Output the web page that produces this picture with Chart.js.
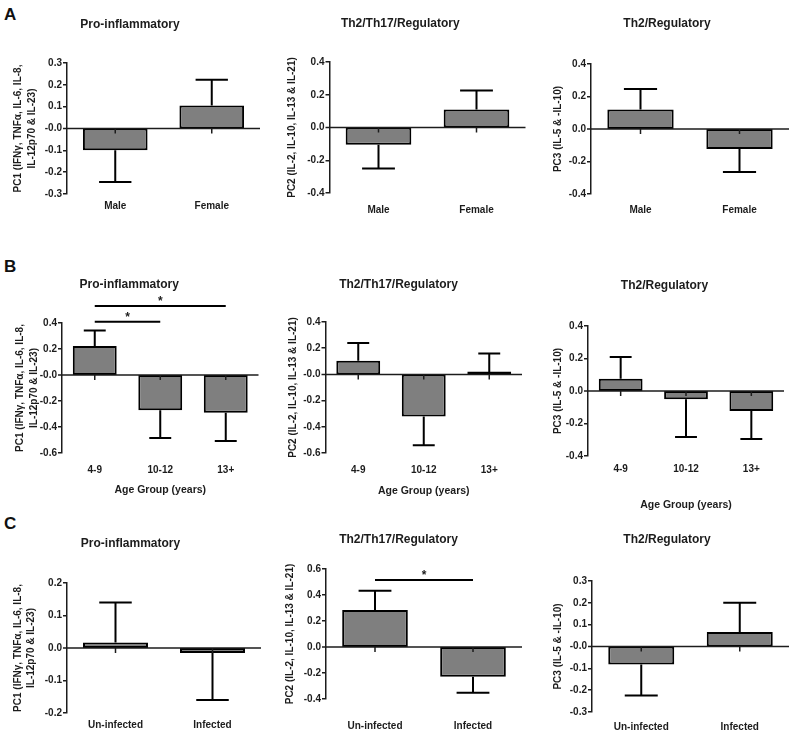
<!DOCTYPE html>
<html><head><meta charset="utf-8">
<script src="https://cdn.jsdelivr.net/npm/chart.js@4.4.0/dist/chart.umd.min.js"></script>
<style>
html,body{margin:0;padding:0;background:#fff;overflow:hidden;width:793px;height:735px;position:relative;}
canvas{position:absolute;}
.lbl{position:absolute;font:bold 17px "Liberation Sans",Arial,sans-serif;line-height:17px;color:#111;}
</style></head><body>
<div class="lbl" style="left:4px;top:6px">A</div>
<div class="lbl" style="left:4px;top:258px">B</div>
<div class="lbl" style="left:4px;top:515px">C</div>
<script>
// ---------- categories ----------
const sexGroups = ['Male', 'Female'];
const ageGroups = ['4-9', '10-12', '13+'];
const infectionGroups = ['Un-infected', 'Infected'];

// ---------- titles ----------
const panelTitles = ['Pro-inflammatory', 'Th2/Th17/Regulatory', 'Th2/Regulatory'];
const pc1AxisTitle = ['PC1 (IFNγ, TNFα, IL-6, IL-8,', 'IL-12p70 & IL-23)'];
const pc2AxisTitle = 'PC2 (IL-2, IL-10, IL-13 & IL-21)';
const pc3AxisTitle = 'PC3 (IL-5 & -IL-10)';
const ageAxisTitle = 'Age Group (years)';

// ---------- means and error (SEM) ----------
const sexPC1 = [-0.100, 0.105];
const sexPC1Err = [0.145, 0.118];
const sexPC2 = [-0.105, 0.110];
const sexPC2Err = [0.145, 0.116];
const sexPC3 = [0.120, -0.123];
const sexPC3Err = [0.126, 0.142];

const agePC1 = [0.223, -0.272, -0.290];
const agePC1Err = [0.120, 0.213, 0.218];
const agePC2 = [0.104, -0.322, 0.005];
const agePC2Err = [0.136, 0.218, 0.155];
const agePC3 = [0.075, -0.050, -0.123];
const agePC3Err = [0.135, 0.233, 0.173];

const infPC1 = [0.017, -0.015];
const infPC1Err = [0.123, 0.145];
const infPC2 = [0.285, -0.228];
const infPC2Err = [0.147, 0.124];
const infPC3 = [-0.083, 0.066];
const infPC3Err = [0.141, 0.134];

// ---------- y tick labels (top to bottom) ----------
const ticksA1 = ['0.3', '0.2', '0.1', '-0.0', '-0.1', '-0.2', '-0.3'];
const ticksA2 = ['0.4', '0.2', '0.0', '-0.2', '-0.4'];
const ticksA3 = ['0.4', '0.2', '0.0', '-0.2', '-0.4'];
const ticksB1 = ['0.4', '0.2', '-0.0', '-0.2', '-0.4', '-0.6'];
const ticksB2 = ['0.4', '0.2', '-0.0', '-0.2', '-0.4', '-0.6'];
const ticksB3 = ['0.4', '0.2', '0.0', '-0.2', '-0.4'];
const ticksC1 = ['0.2', '0.1', '0.0', '-0.1', '-0.2'];
const ticksC2 = ['0.6', '0.4', '0.2', '0.0', '-0.2', '-0.4'];
const ticksC3 = ['0.3', '0.2', '0.1', '-0.0', '-0.1', '-0.2', '-0.3'];

// ---------- significance brackets ----------
const ageSigPC1 = [{from: 0, to: 2, level: 0.53, mark: '*'}, {from: 0, to: 1, level: 0.41, mark: '*'}];
const infSigPC2 = [{from: 0, to: 1, level: 0.515, mark: '*'}];

// ---------- panel geometry (page pixels) ----------
const geometry = {
  a1: {cl: 0,   ct: 0,   H: 235, l: 67,    r: 260,   t: 63,  b: 194, tcx: 151,   ty: 25,    yFirst: 18.3,  xLab: 206.7},
  a2: {cl: 275, ct: 0,   H: 235, l: 329.5, r: 525.5, t: 62,  b: 193, tcx: 413,   ty: 24,    yFirst: 292,   xLab: 210},
  a3: {cl: 545, ct: 0,   H: 235, l: 591,   r: 789,   t: 64,  b: 194, tcx: 676,   ty: 24,    yFirst: 558,   xLab: 210},
  b1: {cl: 0,   ct: 238, H: 262, l: 62,    r: 258.5, t: 323, b: 453, tcx: 148,   ty: 285,   yFirst: 20.5,  xLab: 470,   xTitleY: 490},
  b2: {cl: 275, ct: 238, H: 262, l: 325.5, r: 522,   t: 322, b: 453, tcx: 408.3, ty: 285,   yFirst: 293,   xLab: 470,   xTitleY: 490.7},
  b3: {cl: 545, ct: 238, H: 277, l: 588,   r: 784,   t: 326, b: 456, tcx: 669.7, ty: 286,   yFirst: 558.3, xLab: 469.3, xTitleY: 505},
  c1: {cl: 0,   ct: 505, H: 230, l: 67,    r: 261,   t: 583, b: 713, tcx: 149.5, ty: 543.3, yFirst: 18,    xLab: 725},
  c2: {cl: 275, ct: 505, H: 230, l: 326,   r: 522,   t: 569, b: 699, tcx: 408.3, ty: 540,   yFirst: 290,   xLab: 726.7},
  c3: {cl: 545, ct: 505, H: 230, l: 592,   r: 789,   t: 581, b: 712, tcx: 676.2, ty: 540,   yFirst: 558,   xLab: 727.3}
};

Chart.defaults.font.family = '"Liberation Sans", Arial, Helvetica, sans-serif';
const ink = '#1c1c1c';

const errorBarPlugin = {
  id: 'errorBars',
  afterDatasetsDraw(chart, args, opts) {
    const ctx = chart.ctx;
    const xs = chart.scales.x, ys = chart.scales.y;
    const area = chart.chartArea;
    const y0 = ys.getPixelForValue(0);
    ctx.save();
    ctx.strokeStyle = ink;
    ctx.lineWidth = 1.5;
    ctx.beginPath();
    ctx.moveTo(area.left - 4, y0);
    ctx.lineTo(area.right, y0);
    chart.data.labels.forEach((_, i) => {
      const x = xs.getPixelForValue(i);
      ctx.moveTo(x, y0);
      ctx.lineTo(x, y0 + 5);
    });
    ctx.stroke();

    const meta = chart.getDatasetMeta(0);
    const vals = chart.data.datasets[0].data;
    const errs = opts.errors || [];
    ctx.strokeStyle = '#000';
    ctx.lineWidth = 2;
    meta.data.forEach((bar, i) => {
      const v = vals[i], e = errs[i];
      const end = v >= 0 ? v + e : v - e;
      const yv = ys.getPixelForValue(v), ye = ys.getPixelForValue(end);
      const half = bar.width / 4;
      ctx.beginPath();
      ctx.moveTo(bar.x, yv);
      ctx.lineTo(bar.x, ye);
      ctx.moveTo(bar.x - half, ye);
      ctx.lineTo(bar.x + half, ye);
      ctx.stroke();
    });

    const brs = opts.brackets || [];
    for (let k = 0; k < brs.length; k++) {
      const br = brs[k];
      const x1 = xs.getPixelForValue(br.from), x2 = xs.getPixelForValue(br.to);
      const y = ys.getPixelForValue(br.level);
      ctx.lineWidth = 2;
      ctx.beginPath();
      ctx.moveTo(x1, y);
      ctx.lineTo(x2, y);
      ctx.stroke();
      ctx.fillStyle = ink;
      ctx.font = 'bold 12px "Liberation Sans", Arial, sans-serif';
      ctx.textAlign = 'center';
      ctx.textBaseline = 'alphabetic';
      ctx.fillText(br.mark, (x1 + x2) / 2, y - 1);
    }
    ctx.restore();
  }
};

function makePanel(key, cats, values, errors, tickLabels, title, yTitle, xTitle, brackets) {
  const g = geometry[key];
  const cl = Math.round(g.cl), ct = Math.round(g.ct);
  const W = Math.round(2 * (g.tcx - g.cl));
  const cv = document.createElement('canvas');
  cv.width = W; cv.height = g.H;
  cv.style.left = cl + 'px'; cv.style.top = ct + 'px';
  cv.style.width = W + 'px'; cv.style.height = g.H + 'px';
  document.body.appendChild(cv);

  const tickVals = tickLabels.map(parseFloat);
  const max = tickVals[0], min = tickVals[tickVals.length - 1];
  const step = Math.abs(tickVals[0] - tickVals[1]);
  const titleLH = 12 * 1.2;
  const pt = g.ty - ct - titleLH / 2;
  const pb = g.t - ct - pt - titleLH;
  const xh = ct + g.H - g.b;
  const xpad = g.xLab - g.b - 6;
  const yLH = 10 * 1.35;
  const yTitlePad = g.yFirst - cl - yLH / 2;
  const xTitleLH = 10.5 * 1.2;
  const xTitlePad = g.xTitleY ? (ct + g.H - g.xTitleY - xTitleLH / 2) : 0;

  new Chart(cv, {
    type: 'bar',
    data: {
      labels: cats,
      datasets: [{
        data: values,
        backgroundColor: '#7f7f7f',
        borderColor: '#000',
        borderWidth: 2,
        borderSkipped: false,
        barPercentage: 0.67,
        categoryPercentage: 1,
        minBarLength: 3
      }]
    },
    options: {
      responsive: false,
      animation: false,
      devicePixelRatio: 1,
      layout: {padding: {left: 0, top: 0, bottom: 0, right: cl + W - g.r}},
      plugins: {
        legend: {display: false},
        tooltip: {enabled: false},
        title: {
          display: true, text: title, color: ink,
          font: {size: 12, weight: 'bold', lineHeight: 1.2},
          padding: {top: pt, bottom: pb}
        },
        errorBars: {errors: errors, brackets: brackets || []}
      },
      scales: {
        x: {
          ticks: {color: ink, font: {size: 10, weight: 'bold', lineHeight: 1.2}, padding: xpad, maxRotation: 0, autoSkip: false},
          grid: {display: false, drawTicks: false},
          border: {display: false},
          title: {
            display: !!xTitle, text: xTitle || '', color: ink,
            font: {size: 10.5, weight: 'bold', lineHeight: 1.2},
            padding: {top: 0, bottom: xTitlePad}
          },
          afterFit: s => { s.height = xh; }
        },
        y: {
          min: min, max: max,
          ticks: {
            stepSize: step, color: ink, font: {size: 10, weight: 'bold'}, padding: 1,
            callback: v => {
              const m = tickLabels.find(l => Math.abs(parseFloat(l) - v) < 1e-6);
              return m === undefined ? '' : m;
            }
          },
          grid: {
            drawOnChartArea: false, drawTicks: true, tickLength: 4, color: ink,
            lineWidth: c => (c.tick && Math.abs(c.tick.value) < 1e-9) ? 0 : 1.5
          },
          border: {display: true, color: ink, width: 1.5},
          title: {
            display: true, text: yTitle, color: ink,
            font: {size: 10, weight: 'bold', lineHeight: 1.35},
            padding: {top: yTitlePad, bottom: 0}
          },
          afterFit: s => { s.width = g.l - cl; }
        }
      }
    },
    plugins: [errorBarPlugin]
  });
}

makePanel('a1', sexGroups, sexPC1, sexPC1Err, ticksA1, panelTitles[0], pc1AxisTitle, null, null);
makePanel('a2', sexGroups, sexPC2, sexPC2Err, ticksA2, panelTitles[1], pc2AxisTitle, null, null);
makePanel('a3', sexGroups, sexPC3, sexPC3Err, ticksA3, panelTitles[2], pc3AxisTitle, null, null);
makePanel('b1', ageGroups, agePC1, agePC1Err, ticksB1, panelTitles[0], pc1AxisTitle, ageAxisTitle, ageSigPC1);
makePanel('b2', ageGroups, agePC2, agePC2Err, ticksB2, panelTitles[1], pc2AxisTitle, ageAxisTitle, null);
makePanel('b3', ageGroups, agePC3, agePC3Err, ticksB3, panelTitles[2], pc3AxisTitle, ageAxisTitle, null);
makePanel('c1', infectionGroups, infPC1, infPC1Err, ticksC1, panelTitles[0], pc1AxisTitle, null, null);
makePanel('c2', infectionGroups, infPC2, infPC2Err, ticksC2, panelTitles[1], pc2AxisTitle, null, infSigPC2);
makePanel('c3', infectionGroups, infPC3, infPC3Err, ticksC3, panelTitles[2], pc3AxisTitle, null, null);
</script>
</body></html>
